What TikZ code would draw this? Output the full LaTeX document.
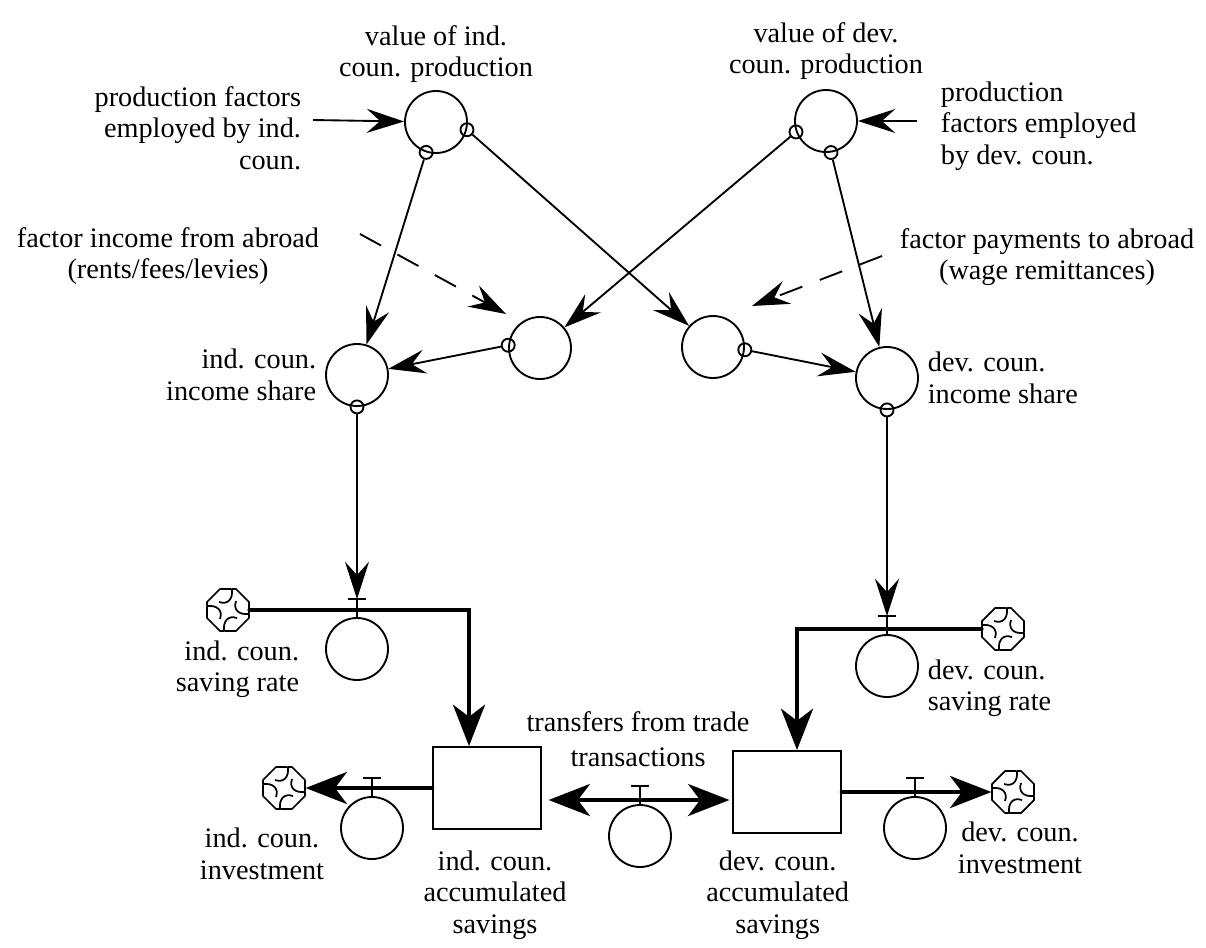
\documentclass[tikz,border=0pt]{standalone}
\usepackage{fontspec}
\setmainfont{Liberation Serif}
\usetikzlibrary{arrows.meta,positioning,calc}

\newcommand\lblfont{\fontsize{21.2pt}{23.6pt}\selectfont}

\tikzset{
  cloud/.pic={
    \foreach \r in {0,90,180,270}
      \draw[rotate=\r,line width=1.3pt,line join=round]
        (3,-21) -- (-8,-21) -- (-21,-8) -- (-21,-4)
        .. controls (-11,-5) and (-5,0) .. (-8,9);
  },
}

\begin{document}
\begin{tikzpicture}
    [x=0.75pt,y=-0.75pt,line width=1.4pt,
     every node/.style={inner sep=0pt,font=\lblfont},
     aux/.style={circle,draw,minimum size=46.5pt},
     sc/.style={circle,draw,minimum size=9.75pt},
     stock/.style={rectangle,draw,minimum width=81pt,minimum height=61.5pt},
     sink/.style={circle,minimum size=31pt},
     lbl/.style={align=center},
     link/.style={>={Stealth[length=28pt,width=18pt,inset=10pt]},->},
     flow/.style={line width=3.3pt,line cap=round,>={Stealth[length=31pt,width=24pt,inset=9pt]},->}]

    \useasboundingbox (0,0) rectangle (1206,947);

    % converters
    \node[aux] (ip) at (436,122) {};
    \node[aux] (dp) at (826,121) {};
    \node[aux] (lm) at (540,348) {};
    \node[aux] (rm) at (713,347) {};
    \node[aux] (is) at (357,375) {};
    \node[aux] (ds) at (887,378) {};

    % valves
    \node[aux] (isv) at (357,649) {};
    \node[aux] (dsv) at (887,666) {};
    \node[aux] (iiv) at (372,828) {};
    \node[aux] (trv) at (640,836) {};
    \node[aux] (div) at (915,828) {};
    \foreach \v in {isv,dsv,iiv,trv,div}
      \draw (\v.north) -- ++(0,-18) coordinate (t\v) ++(-9,0) -- ++(18,0);

    % stocks and clouds
    \node[stock] (ib) at (487,788) {};
    \node[stock] (db) at (787,792) {};
    \node[sink] (c1) at (228,610) {};
    \node[sink] (c2) at (1003,629) {};
    \node[sink] (c3) at (284,788) {};
    \node[sink] (c4) at (1013,792) {};
    \foreach \c in {c1,c2,c3,c4}
      \pic at (\c) {cloud};

    % small connector circles
    \node[sc] (ipA) at (ip.252) {};
    \node[sc] (ipB) at (ip.346) {};
    \node[sc] (dpA) at (dp.200) {};
    \node[sc] (dpB) at (dp.279) {};
    \node[sc] (lmS) at (lm.175) {};
    \node[sc] (rmS) at (rm.355) {};
    \node[sc] (isS) at (is.south) {};
    \node[sc] (dsS) at (ds.south) {};

    % labels
    \node[lbl] (tvi) at (436,54) {value of ind.\\coun. production};
    \node[lbl] (tvd) at (826,51) {value of dev.\\coun. production};
    \node[align=right,anchor=east] (pfi) at (302,128) {production factors\\employed by ind.\\coun.};
    \node[align=left,anchor=west] (pfd) at (940,126) {production\\factors employed\\by dev. coun.};
    \node[lbl] (fia) at (168,256) {factor income from abroad\\(rents/fees/levies)};
    \node[lbl] (fpa) at (1047,257) {factor payments to abroad\\(wage remittances)};
    \node[align=right,left=6pt of is] (isl) {ind. coun.\\income share};
    \node[align=left,right=6pt of ds] (dsl) {dev. coun.\\income share};
    \node[align=right,anchor=east] (isr) at (300,669) {ind. coun.\\saving rate};
    \node[align=left,anchor=west] (dsr) at (927,688) {dev. coun.\\saving rate};
    \node[lbl] (iil) at (262,854) {ind. coun.\\investment};
    \node[lbl] (dil) at (1020,848) {dev. coun.\\investment};
    \node[lbl] (trl) at (638,739) {transfers from trade\\[3pt]transactions};
    \node[lbl,below=15pt of ib,xshift=6pt] (ibl) {ind. coun.\\accumulated\\savings};
    \node[lbl,below=12pt of db,xshift=-7pt] (dbl) {dev. coun.\\accumulated\\savings};

    % information links
    \coordinate (pfiE) at (313,120);
    \coordinate (pfdE) at (917,121);
    \draw[link] (pfiE) -- (ip);
    \draw[link] (pfdE) -- (dp);
    \draw[link] (ipA) -- (is);
    \draw[link] (ipB) -- (rm);
    \draw[link] (dpA) -- (lm);
    \draw[link] (dpB) -- (ds);
    \draw[link] (lmS) -- (is);
    \draw[link] (rmS) -- (ds);
    \draw[link] (isS) -- (tisv);
    \draw[link] (dsS) -- (tdsv);
    \coordinate (fiS) at (360,234);
    \coordinate (fiE) at (506,314);
    \coordinate (fpS) at (882,256);
    \coordinate (fpE) at (752,306);
    \draw[link,dash pattern=on 18pt off 14pt] (fiS) -- (fiE);
    \draw[link,dash pattern=on 18pt off 14pt] (fpS) -- (fpE);

    % flows
    \draw[flow] (c1.east) -| ([xshift=-13.5pt]ib.north);
    \draw[flow] (c2.west) -| ([xshift=7.5pt]db.north);
    \draw[flow] (ib.west) -- (c3.east);
    \draw[flow] (db.east) -- (c4.west);
    \draw[flow,<->,shorten <=5pt,shorten >=2pt] ([yshift=-9pt]ib.east) -- ([yshift=-6pt]db.west);
\end{tikzpicture}
\end{document}
